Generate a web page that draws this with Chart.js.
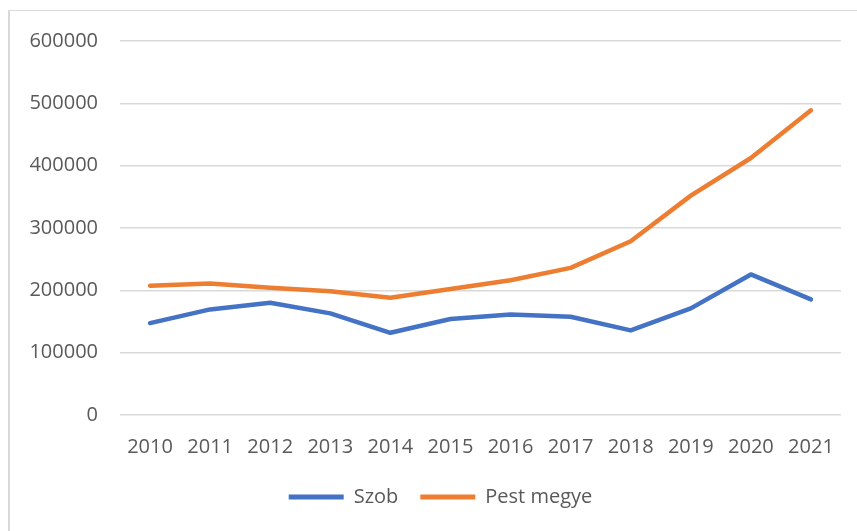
<!DOCTYPE html>
<html><head><meta charset="utf-8">
<script src="https://cdn.jsdelivr.net/npm/chart.js@4.4.1/dist/chart.umd.min.js"></script>
<style>
html,body{margin:0;padding:0;background:#fff;}
#wrap{position:absolute;left:0;top:0;width:857px;height:531px;}
#frame{position:absolute;left:8px;top:10px;width:849px;height:521px;border-top:1px solid #d9d9d9;border-left:2px solid #d9d9d9;box-sizing:border-box;pointer-events:none;}
</style></head>
<body>
<div id="wrap"><canvas id="c" width="857" height="531"></canvas></div>
<div id="frame"></div>
<script>
const years = ["2010","2011","2012","2013","2014","2015","2016","2017","2018","2019","2020","2021"];
const szob = [147400,169400,180000,163000,131900,154000,161300,157600,135700,171000,225500,185400];
const pestMegye = [207300,211000,204000,198700,188000,202000,216300,236000,278800,352000,412300,488800];
const yTicks = [0,100000,200000,300000,400000,500000,600000];

const FONT = "'Open Sans', sans-serif";
const TXT = '#595959';

const legendShift = {
  id:'legendShift',
  afterLayout(chart){
    const lg = chart.legend;
    if(!lg) return;
    lg.top -= 14; lg.bottom -= 14;
    lg.left += 20; lg.right += 20;
  }
};

new Chart(document.getElementById('c'), {
  type: 'line',
  data: {
    labels: years,
    datasets: [
      {label:'Szob', data: szob, borderColor:'#4472C4', backgroundColor:'#4472C4', borderWidth:4.5, pointRadius:0, tension:0, borderCapStyle:'round', borderJoinStyle:'round'},
      {label:'Pest megye', data: pestMegye, borderColor:'#ED7D31', backgroundColor:'#ED7D31', borderWidth:4.5, pointRadius:0, tension:0, borderCapStyle:'round', borderJoinStyle:'round'}
    ]
  },
  plugins:[legendShift],
  options: {
    responsive:false, animation:false,
    layout:{padding:{left:0,right:16,top:41,bottom:0}},
    plugins:{
      tooltip:{enabled:false},
      legend:{
        position:'bottom',
        labels:{
          font:{family:FONT,size:20}, color:TXT, boxWidth:55, boxHeight:5, padding:22,
          generateLabels(chart){
            return chart.data.datasets.map((d,i)=>({text:d.label, fillStyle:d.borderColor, strokeStyle:d.borderColor, lineWidth:0, datasetIndex:i, fontColor:TXT}));
          }
        }
      }
    },
    scales:{
      x:{
        offset:true,
        grid:{display:false, drawTicks:false},
        border:{display:false},
        ticks:{font:{family:FONT,size:20}, color:TXT, padding:20, maxRotation:0}
      },
      y:{
        min:0, max:600000,
        afterBuildTicks(s){ s.ticks = yTicks.map(v=>({value:v})); },
        afterFit(s){ s.width = 120; },
        grid:{color:'#d9d9d9', lineWidth:1.5, drawTicks:false},
        border:{display:false},
        ticks:{font:{family:FONT,size:20}, color:TXT, padding:22, callback:(v)=>String(v)}
      }
    }
  }
});
</script>
</body></html>
